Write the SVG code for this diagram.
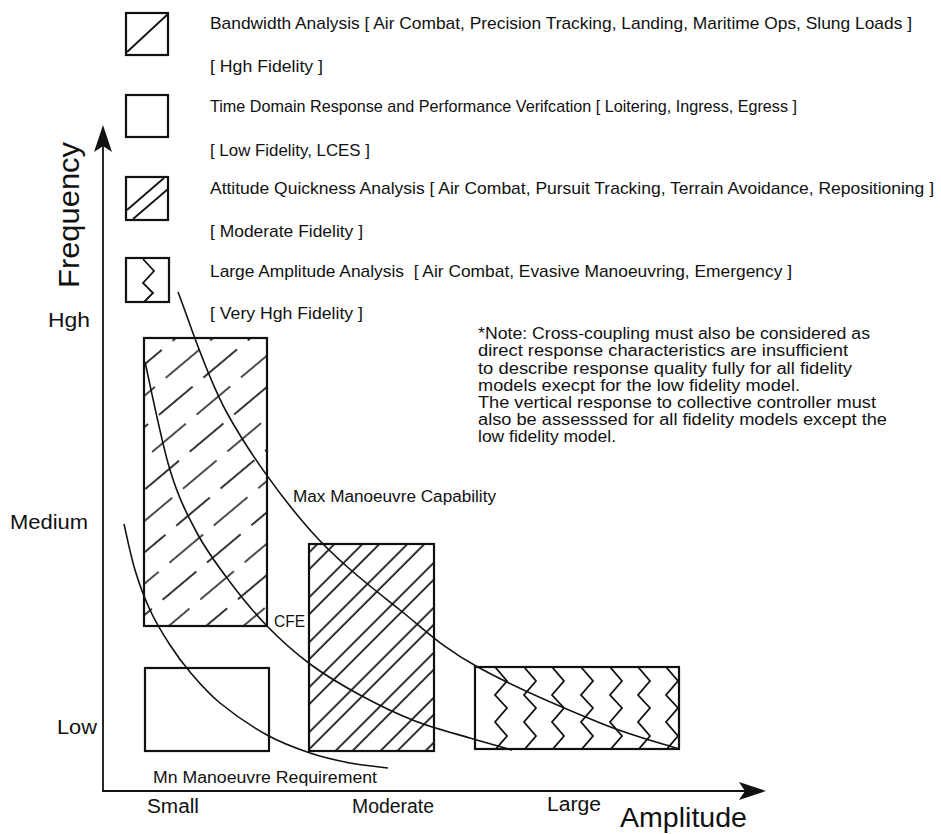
<svg xmlns="http://www.w3.org/2000/svg" width="941" height="834" viewBox="0 0 941 834">
<style>
text{font-family:"Liberation Sans",Arial,sans-serif;fill:#111}
.lg{font-size:17px}
.nt{font-size:16px}
.ax{font-size:20px}
.big{font-size:28px}
.lb{font-size:16px}
.box{fill:none;stroke:#111;stroke-width:2.2}
.crv{fill:none;stroke:#111;stroke-width:1.6}
.ln{stroke:#111;stroke-width:1.8;fill:none}
</style>
<defs>
<pattern id="dash" patternUnits="userSpaceOnUse" width="58" height="48" patternTransform="rotate(-40)">
<g stroke="#111" stroke-width="1.7">
<line x1="0" y1="12" x2="44" y2="12"/>
<line x1="29" y1="36" x2="58" y2="36"/>
<line x1="0" y1="36" x2="15" y2="36"/>
</g>
</pattern>
<pattern id="dbl" patternUnits="userSpaceOnUse" width="20" height="31.8" patternTransform="rotate(-45)">
<g stroke="#111" stroke-width="1.7">
<line x1="-1" y1="5" x2="21" y2="5"/>
<line x1="-1" y1="17" x2="21" y2="17"/>
</g>
</pattern>
<clipPath id="lclip"><rect x="475" y="667" width="204" height="82"/></clipPath>
</defs>
<rect width="941" height="834" fill="#fff"/>

<g id="legend-bandwidth">
<rect class="box" x="126" y="13" width="42" height="42"/>
<line class="ln" x1="127" y1="52" x2="168" y2="14"/>
<text class="lg" x="210" y="29" textLength="702" lengthAdjust="spacingAndGlyphs">Bandwidth Analysis [ Air Combat, Precision Tracking, Landing, Maritime Ops, Slung Loads ]</text>
<text class="lg" x="210" y="72" textLength="113" lengthAdjust="spacingAndGlyphs">[ Hgh Fidelity ]</text>
</g>
<g id="legend-timedomain">
<rect class="box" x="126" y="95" width="42" height="42"/>
<text class="lg" x="210" y="112" textLength="587" lengthAdjust="spacingAndGlyphs">Time Domain Response and Performance Verifcation [ Loitering, Ingress, Egress ]</text>
<text class="lg" x="210" y="156" textLength="160" lengthAdjust="spacingAndGlyphs">[ Low Fidelity, LCES ]</text>
</g>
<g id="legend-attitude">
<rect class="box" x="126" y="177" width="42" height="43"/>
<line class="ln" x1="127" y1="210" x2="164" y2="178"/>
<line class="ln" x1="133" y1="219" x2="168" y2="189"/>
<text class="lg" x="210" y="194" textLength="724" lengthAdjust="spacingAndGlyphs">Attitude Quickness Analysis [ Air Combat, Pursuit Tracking, Terrain Avoidance, Repositioning ]</text>
<text class="lg" x="210" y="237" textLength="153" lengthAdjust="spacingAndGlyphs">[ Moderate Fidelity ]</text>
</g>
<g id="legend-large">
<rect class="box" x="126" y="258" width="43" height="44"/>
<polyline class="ln" points="143,259 154,271 143,283 153,293 144,302"/>
<text class="lg" x="210" y="277" textLength="582" lengthAdjust="spacingAndGlyphs" xml:space="preserve">Large Amplitude Analysis  [ Air Combat, Evasive Manoeuvring, Emergency ]</text>
<text class="lg" x="210" y="319" textLength="153" lengthAdjust="spacingAndGlyphs">[ Very Hgh Fidelity ]</text>
</g>

<g id="note">
<text class="nt" x="478" y="339" textLength="392" lengthAdjust="spacingAndGlyphs">*Note: Cross-coupling must also be considered as</text>
<text class="nt" x="478" y="356" textLength="370" lengthAdjust="spacingAndGlyphs">direct response characteristics are insufficient</text>
<text class="nt" x="478" y="374" textLength="374" lengthAdjust="spacingAndGlyphs">to describe response quality fully for all fidelity</text>
<text class="nt" x="478" y="391" textLength="322" lengthAdjust="spacingAndGlyphs">models execpt for the low fidelity model.</text>
<text class="nt" x="478" y="408" textLength="398" lengthAdjust="spacingAndGlyphs">The vertical response to collective controller must</text>
<text class="nt" x="478" y="425" textLength="409" lengthAdjust="spacingAndGlyphs">also be assesssed for all fidelity models except the</text>
<text class="nt" x="478" y="442" textLength="138" lengthAdjust="spacingAndGlyphs">low fidelity model.</text>
</g>

<g id="axes">
<line class="ln" x1="103" y1="791" x2="103" y2="140" stroke-width="2"/>
<polygon points="103,125 94,152 103,146 112,152" fill="#111"/>
<line class="ln" x1="102" y1="791" x2="750" y2="791" stroke-width="2"/>
<polygon points="766,791 739,782 745,791 739,800" fill="#111"/>
<text class="big" style="font-size:29px" transform="translate(79,215) rotate(-90)" text-anchor="middle" textLength="146" lengthAdjust="spacingAndGlyphs">Frequency</text>
<text class="big" x="620" y="827" textLength="127" lengthAdjust="spacingAndGlyphs">Amplitude</text>
<text class="ax" x="48" y="327" textLength="42" lengthAdjust="spacingAndGlyphs">Hgh</text>
<text class="ax" x="10" y="529" textLength="78" lengthAdjust="spacingAndGlyphs">Medium</text>
<text class="ax" x="57" y="734" textLength="40" lengthAdjust="spacingAndGlyphs">Low</text>
<text class="ax" x="147" y="813" textLength="52" lengthAdjust="spacingAndGlyphs">Small</text>
<text class="ax" x="352" y="813" textLength="82" lengthAdjust="spacingAndGlyphs">Moderate</text>
<text class="ax" x="547" y="811" textLength="54" lengthAdjust="spacingAndGlyphs">Large</text>
</g>

<g id="box-small-high">
<rect x="144" y="338" width="123" height="288" fill="url(#dash)"/>
<rect class="box" x="144" y="338" width="123" height="288"/>
</g>
<g id="box-small-low">
<rect class="box" x="145" y="668" width="124" height="83"/>
</g>
<g id="box-moderate">
<rect x="309" y="544" width="125" height="207" fill="url(#dbl)"/>
<rect class="box" x="309" y="544" width="125" height="207"/>
</g>
<g id="box-large">
<g clip-path="url(#lclip)" class="ln">
<polyline points="495,667 507,681 495,695 507,708 495,722 507,736 495,750"/>
<polyline points="524,667 536,681 524,695 536,708 524,722 536,736 524,750"/>
<polyline points="552,667 564,681 552,695 564,708 552,722 564,736 552,750"/>
<polyline points="581,667 593,681 581,695 593,708 581,722 593,736 581,750"/>
<polyline points="610,667 622,681 610,695 622,708 610,722 622,736 610,750"/>
<polyline points="638,667 650,681 638,695 650,708 638,722 650,736 638,750"/>
<polyline points="666,667 678,681 666,695 678,708 666,722 678,736 666,750"/>
</g>
<rect class="box" x="475" y="667" width="204" height="82"/>
</g>

<g id="connectors">
<path id="max-curve" class="crv" d="M178,292 C186.2,312.2 205,373.3 227,413 C249,452.7 281.2,497.3 310,530 C338.8,562.7 372.5,588 400,610 C427.5,632 443,648 476,666 C508,684 559,706 593,720 C627,734.8 664.7,744.2 679,749"/>
<path id="cfe-curve" class="crv" d="M145,362 C149.2,380 161.3,441.5 170,470 C178.7,498.5 187,514.3 197,533 C207,551.7 218.3,566.5 230,582 C241.7,597.5 253.7,612.3 267,626 C280.3,639.7 294.5,652.5 310,664 C325.5,675.5 342.5,685.5 360,695 C377.5,704.5 396.7,713.8 415,721 C433.3,728.2 453.8,733.2 470,738 C486.2,742.8 505,748 512,750"/>
<path id="min-curve" class="crv" d="M124,524 C125.8,531.7 130.7,555.7 135,570 C139.3,584.3 144.2,597.5 150,610 C155.8,622.5 163.3,634.7 170,645 C176.7,655.3 181.7,662.3 190,672 C198.3,681.7 207.2,692.5 220,703 C232.8,713.5 252,726.7 267,735 C282,743.3 296.2,748.3 310,753 C323.8,757.7 337,760.5 350,763 C363,765.5 381.7,767.2 388,768"/>
</g>

<g id="curve-labels">
<text class="lb" x="293" y="502" textLength="203" lengthAdjust="spacingAndGlyphs">Max Manoeuvre Capability</text>
<text class="lb" x="274" y="627" textLength="31" lengthAdjust="spacingAndGlyphs">CFE</text>
<text class="lb" x="153" y="783" textLength="224" lengthAdjust="spacingAndGlyphs">Mn Manoeuvre Requirement</text>
</g>
</svg>
